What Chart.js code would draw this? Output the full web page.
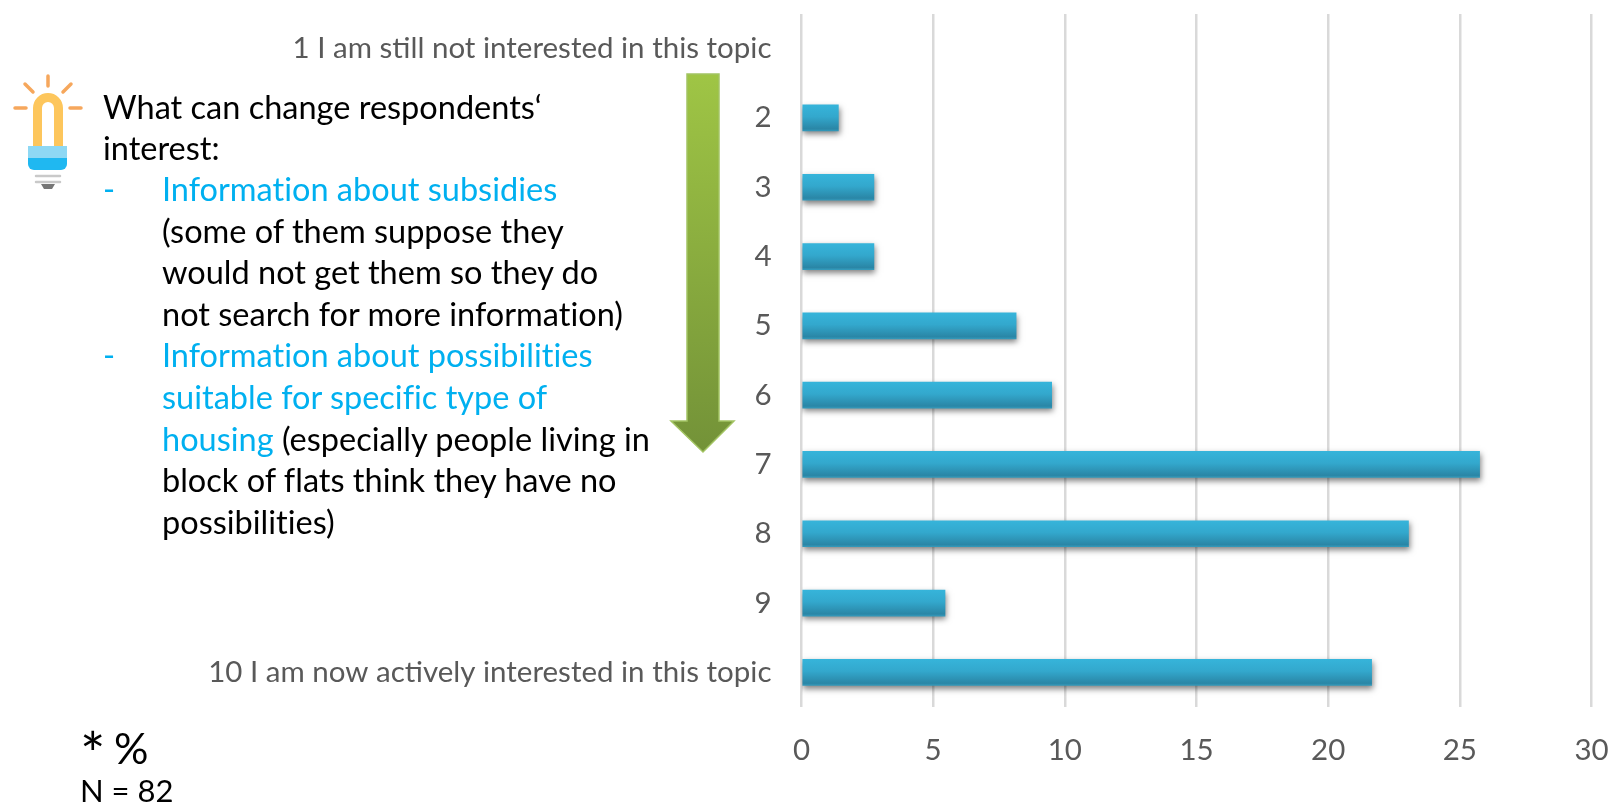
<!DOCTYPE html>
<html>
<head>
<meta charset="utf-8">
<script src="https://cdn.jsdelivr.net/npm/chart.js@4"></script>
<style>
  html, body { margin: 0; padding: 0; background: #fff; width: 1611px; height: 804px; overflow: hidden; }
  #wrap { position: relative; width: 1611px; height: 804px; }
  canvas { position: absolute; left: 0; top: 0; }
  svg { position: absolute; left: 0; top: 0; }
  .t { position: absolute; font-family: Lato, "Open Sans", sans-serif; font-size: 32.5px; line-height: 41.5px; color: #000; white-space: nowrap; font-variant-ligatures: none; }
  .b { color: #00b0f0; }
</style>
</head>
<body>
<div id="wrap">
  <canvas id="c" width="1611" height="804"></canvas>
  <svg width="1611" height="804">
    <defs>
      <linearGradient id="arrowFill" x1="0" y1="0" x2="0" y2="1">
        <stop offset="0" stop-color="#9fc545"/>
        <stop offset="1" stop-color="#739238"/>
      </linearGradient>
    </defs>
    <!-- downward arrow beside the scale labels -->
    <polygon points="687,74 719,74 719,421 734,421 703,452 671,421 687,421" fill="url(#arrowFill)" stroke="#a3c463" stroke-width="1.5"/>
    <!-- light bulb icon -->
    <g fill="none" stroke-linecap="round">
      <g stroke="#f6a75c" stroke-width="3.5">
        <path d="M48 76V86M15 108H26M70 108H81M25 84L33 92M71 84L63 92"/>
      </g>
      <path d="M37.5 147V108a10 10 0 0 1 21 0V147" stroke="#fdc65c" stroke-width="9" stroke-linecap="butt"/>
      <path d="M36 176H60M36 182H60" stroke="#c9c9c9" stroke-width="2.5"/>
    </g>
    <path d="M28 146H67V158H28Z" fill="#8ed8f4"/>
    <path d="M28 158H67V164a6 6 0 0 1 -6 6H34a6 6 0 0 1 -6 -6Z" fill="#1fb8f1"/>
    <path d="M41 184H55L52 189H44Z" fill="#767676"/>
  </svg>
  <div class="t" style="left:103px;top:86px">What can change respondents‘</div>
  <div class="t" style="left:103px;top:127px">interest:</div>
  <div class="t b" style="left:103px;top:168px">-</div>
  <div class="t b" style="left:162px;top:168px">Information about subsidies</div>
  <div class="t" style="left:162px;top:210px">(some of them suppose they</div>
  <div class="t" style="left:162px;top:251px">would not get them so they do</div>
  <div class="t" style="left:162px;top:293px">not search for more information)</div>
  <div class="t b" style="left:103px;top:334px">-</div>
  <div class="t b" style="left:162px;top:334px">Information about possibilities</div>
  <div class="t b" style="left:162px;top:376px">suitable for specific type of</div>
  <div class="t" style="left:162px;top:418px"><span class="b">housing</span> (especially people living in</div>
  <div class="t" style="left:162px;top:459px">block of flats think they have no</div>
  <div class="t" style="left:162px;top:501px">possibilities)</div>
  <div class="t" style="left:80px;top:733px;font-size:60px">*</div>
  <div class="t" style="left:114px;top:727px;font-size:43px">%</div>
  <div class="t" style="left:80px;top:770px;font-size:31px">N = 82</div>
</div>
<script>
// Share of respondents (%) per point of the interest scale
const categories = [
  "1 I am still not interested in this topic", "2", "3", "4", "5", "6", "7", "8", "9",
  "10 I am now actively interested in this topic"
];
const shares = [0, 1.4, 2.75, 2.75, 8.15, 9.5, 25.75, 23.05, 5.45, 21.65];
const xTicks = [0, 5, 10, 15, 20, 25, 30];

const BAR_H = 26;

// Soft drop shadow under the bars
const barShadow = {
  id: "barShadow",
  beforeDatasetDraw(chart) {
    const ctx = chart.ctx;
    ctx.save();
    ctx.shadowColor = "rgba(0,0,0,0.5)";
    ctx.shadowBlur = 6;
    ctx.shadowOffsetX = 1;
    ctx.shadowOffsetY = 3;
  },
  afterDatasetDraw(chart) { chart.ctx.restore(); }
};

// Vertical two-tone fill for each bar; empty bars stay invisible
function barFill(context) {
  const { chart, dataIndex } = context;
  const y = chart.scales.y;
  const mid = y && dataIndex !== undefined ? y.getPixelForValue(dataIndex) : NaN;
  if (!Number.isFinite(mid)) return "#33a5c9";
  if (shares[dataIndex] === 0) return "rgba(0,0,0,0)";
  const g = chart.ctx.createLinearGradient(0, mid - BAR_H / 2, 0, mid + BAR_H / 2);
  g.addColorStop(0, "#36b4da");
  g.addColorStop(0.45, "#33a8cd");
  g.addColorStop(0.92, "#2a86a6");
  g.addColorStop(1, "#3399ba");
  return g;
}

new Chart(document.getElementById("c"), {
  type: "bar",
  data: {
    labels: categories,
    datasets: [{
      data: shares,
      backgroundColor: barFill,
      borderWidth: 0,
      barThickness: BAR_H
    }]
  },
  options: {
    indexAxis: "y",
    responsive: false,
    animation: false,
    layout: { padding: { top: 14, right: 19.5, left: 0, bottom: 0 } },
    plugins: { legend: { display: false }, tooltip: { enabled: false } },
    scales: {
      x: {
        min: 0, max: 30,
        afterBuildTicks(axis) { axis.ticks = xTicks.map(v => ({ value: v })); },
        afterFit(axis) { axis.height = 97; axis.paddingLeft = 0; axis.paddingRight = 0; },
        grid: { color: "#d9d9d9", lineWidth: 2.5, drawTicks: false },
        border: { display: false },
        ticks: { color: "#595959", padding: 26, maxRotation: 0, font: { family: "Lato", size: 29.5 } }
      },
      y: {
        afterFit(axis) { axis.width = 801.5; axis.paddingTop = 0; axis.paddingBottom = 0; },
        grid: { display: false, drawTicks: false },
        border: { display: false },
        ticks: { color: "#595959", padding: 30, autoSkip: false, font: { family: "Lato", size: 29.5 } }
      }
    }
  },
  plugins: [barShadow]
});
</script>
</body>
</html>
